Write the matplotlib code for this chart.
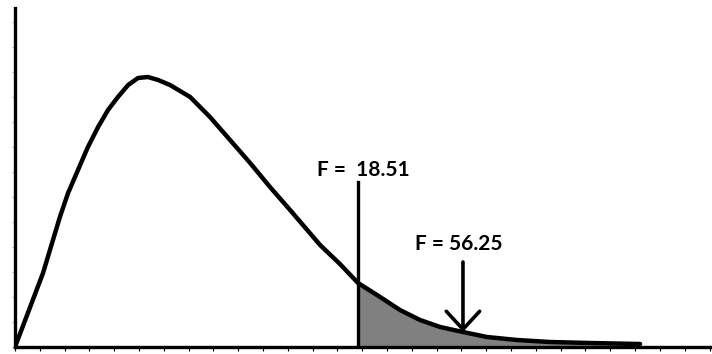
import numpy as np
import matplotlib
matplotlib.use("Agg")
import matplotlib.pyplot as plt

# === Data (arbitrary axis units) ===
curve_x = [0.0, 1.13, 1.81, 2.14, 2.54, 2.94, 3.35, 3.75, 4.15, 4.56, 4.96, 5.36,
           5.77, 6.25, 7.06, 7.86, 8.67, 9.48, 10.28, 11.09, 12.30, 13.10, 13.83,
           14.72, 15.52, 16.33, 17.14, 18.06, 19.03, 20.24, 21.57, 23.19, 25.20]
curve_y = [0.0, 2.96, 5.20, 6.16, 7.08, 8.00, 8.80, 9.48, 10.00, 10.48, 10.76, 10.80,
           10.68, 10.48, 10.00, 9.20, 8.28, 7.36, 6.40, 5.48, 4.08, 3.32, 2.56,
           2.00, 1.48, 1.08, 0.80, 0.60, 0.40, 0.28, 0.20, 0.16, 0.12]

crit_x = 13.83
crit_top = 6.6
crit_label = "F =  18.51"

obs_x = 18.06
obs_top = 3.4
obs_label = "F = 56.25"

x_ticks = np.arange(0, 29, 1)
y_ticks = np.arange(0, 14, 1)

# === Figure ===
fig = plt.figure(figsize=(7.12, 3.54), dpi=100)
ax = fig.add_axes([15 / 712, 7 / 354, 697 / 712, 339 / 354])

cx = np.array(curve_x)
cy = np.array(curve_y)

# shaded tail beyond the critical value
mask = cx >= crit_x
ax.fill_between(cx[mask], 0, cy[mask], color="#808080", linewidth=0, zorder=1)

ax.plot(cx, cy, color="black", linewidth=3.2, solid_capstyle="round",
        solid_joinstyle="round", zorder=3)

# critical value line
ax.plot([crit_x, crit_x], [0, crit_top], color="black", linewidth=2.4, zorder=4)
ax.text(crit_x + 0.2, crit_top + 0.5, crit_label, ha="center", va="center",
        fontsize=15, fontfamily="Lato", fontweight="bold")

# observed F arrow
ax.annotate("", xy=(obs_x, np.interp(obs_x, cx, cy)), xytext=(obs_x, obs_top),
            arrowprops=dict(arrowstyle="->,head_length=0.65,head_width=0.6",
                            mutation_scale=20, color="black", linewidth=2.6,
                            shrinkA=0, shrinkB=0),
            zorder=5)
ax.text(obs_x - 0.15, obs_top + 0.7, obs_label, ha="center", va="center",
        fontsize=15, fontfamily="Lato", fontweight="bold")

ax.set_xlim(0, 28.1)
ax.set_ylim(0, 13.56)

for side in ["top", "right"]:
    ax.spines[side].set_visible(False)
for side in ["left", "bottom"]:
    ax.spines[side].set_linewidth(2.4)
    ax.spines[side].set_color("black")

ax.set_xticks(x_ticks)
ax.set_yticks(y_ticks)
ax.set_xticklabels([])
ax.set_yticklabels([])
ax.tick_params(axis="x", direction="out", length=3, width=0.8, color="black")
ax.tick_params(axis="y", direction="out", length=2, width=0.6, color="#999999")

fig.savefig("out.png", dpi=100)
